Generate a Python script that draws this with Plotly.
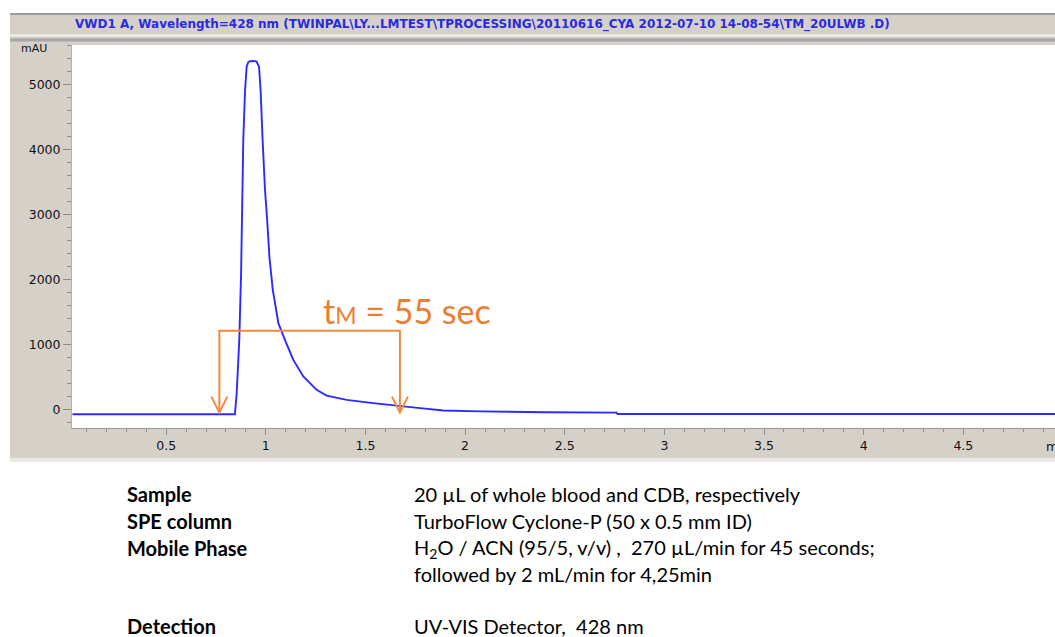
import plotly.graph_objects as go

# ---------------- data ----------------
time_min = [0.03, 0.845, 0.854, 0.867, 0.876, 0.881, 0.887, 0.896, 0.904, 0.912,
            0.921, 0.938, 0.954, 0.966, 0.974, 0.984, 0.996, 1.008, 1.018, 1.035,
            1.063, 1.096, 1.138, 1.188, 1.255, 1.305, 1.406, 1.539, 1.673, 1.774,
            1.891, 2.075, 2.40, 2.76, 2.765, 4.98]
absorbance_mAU = [-65, -65, 260, 1080, 2100, 3130, 4150, 4920, 5280, 5350,
                  5365, 5370, 5360, 5280, 4920, 4150, 3390, 2870, 2360, 1850,
                  1335, 1080, 770, 515, 310, 220, 155, 105, 55, 28,
                  -8, -22, -35, -40, -62, -62]

x_ticks = [0.5, 1, 1.5, 2, 2.5, 3, 3.5, 4, 4.5]
y_ticks = [0, 1000, 2000, 3000, 4000, 5000]

# dead-time annotation (minutes / mAU)
tM_start = 0.767
tM_end = 1.673
bracket_level = 1220
arrow_tip = -40

title_text = ("VWD1 A, Wavelength=428 nm (TWINPAL\\LY...LMTEST\\TPROCESSING\\20110616_CYA "
              "2012-07-10 14-08-54\\TM_20ULWB .D)")

labels_left = ["Sample", "SPE column", "Mobile Phase", "Detection"]
labels_right = ["20 µL of whole blood and CDB, respectively",
                "TurboFlow Cyclone-P (50 x 0.5 mm ID)",
                "H<sub>2</sub>O / ACN (95/5, v/v) ,  270 µL/min for 45 seconds;",
                "followed by 2 mL/min for 4,25min",
                "UV-VIS Detector,  428 nm"]

# ---------------- layout geometry ----------------
W, H = 1055, 637
L, R, T, B = 72, 0, 45, 209
PW = W - L - R
PH = H - T - B
x_range = [0.0276, 4.96]
y_range = [-277, 5615]


def px(xp):
    return (xp - L) / PW


def py(yp):
    return (H - B - yp) / PH


fig = go.Figure()
fig.add_trace(go.Scatter(x=time_min, y=absorbance_mAU, mode="lines",
                         line=dict(color="#2b2bff", width=1.9),
                         hoverinfo="skip", showlegend=False))

shapes = []
# grey instrument panel
shapes.append(dict(type="rect", xref="paper", yref="paper", x0=px(10), x1=px(1060),
                   y0=py(13), y1=py(458), fillcolor="#d5d1c9", line_width=0, layer="below"))
shapes.append(dict(type="rect", xref="paper", yref="paper", x0=px(10), x1=px(1060),
                   y0=py(458), y1=py(462), fillcolor="#ebe9e4", line_width=0, layer="below"))
shapes.append(dict(type="line", xref="paper", yref="paper", x0=px(10), x1=px(1060),
                   y0=py(14), y1=py(14), line=dict(color="#9c9c9c", width=2), layer="below"))
shapes.append(dict(type="line", xref="paper", yref="paper", x0=px(10), x1=px(1060),
                   y0=py(35.5), y1=py(35.5), line=dict(color="#f4f3f0", width=2), layer="below"))
shapes.append(dict(type="line", xref="paper", yref="paper", x0=px(10), x1=px(1060),
                   y0=py(40), y1=py(40), line=dict(color="#a6a6a6", width=3), layer="below"))
# white plotting area
shapes.append(dict(type="rect", xref="paper", yref="paper", x0=0, x1=1.01,
                   y0=0, y1=1, fillcolor="white", line_width=0, layer="below"))

# dead-time bracket and open arrow heads
orange = "#f28a3c"
shapes.append(dict(type="path", xref="x", yref="y",
                   path=(f"M {tM_start},{arrow_tip} L {tM_start},{bracket_level} "
                         f"L {tM_end},{bracket_level} L {tM_end},{arrow_tip}"),
                   line=dict(color=orange, width=2)))
hw = 8 / (PW / (x_range[1] - x_range[0]))
hh = 16 / (PH / (y_range[1] - y_range[0]))
for xt in (tM_start, tM_end):
    shapes.append(dict(type="path", xref="x", yref="y",
                       path=(f"M {xt - hw},{arrow_tip + hh} L {xt},{arrow_tip} "
                             f"L {xt + hw},{arrow_tip + hh}"),
                       line=dict(color=orange, width=2)))

annotations = []
annotations.append(dict(text=f"<b>{title_text}</b>", xref="paper", yref="paper",
                        x=px(482), y=py(25), showarrow=False,
                        xanchor="center", yanchor="middle",
                        font=dict(family="DejaVu Sans", size=12, color="#2a2ae0")))
annotations.append(dict(text="mAU", xref="paper", yref="paper", x=px(34), y=py(48),
                        showarrow=False, xanchor="center", yanchor="middle",
                        font=dict(family="DejaVu Sans", size=11, color="#111")))
annotations.append(dict(text="min", xref="paper", yref="paper", x=px(1044), y=py(446),
                        showarrow=False, xanchor="left", yanchor="middle",
                        font=dict(family="DejaVu Sans", size=12.5, color="#111")))
annotations.append(dict(text="t<span style='font-size:23px'>M</span> = 55 sec",
                        xref="paper", yref="paper", x=px(321), y=py(311),
                        showarrow=False, xanchor="left", yanchor="middle",
                        font=dict(family="Lato, Open Sans", size=34, color="#ed7d31")))

row_y = [494, 521, 548, 574, 626]
left_rows = [494, 521, 548, 626]
for lab, yy in zip(labels_left, left_rows):
    annotations.append(dict(text=f"<b>{lab}</b>", xref="paper", yref="paper",
                            x=px(125), y=py(yy), showarrow=False,
                            xanchor="left", yanchor="middle",
                            font=dict(family="Lato, Open Sans", size=20, color="black")))
for lab, yy in zip(labels_right, row_y):
    annotations.append(dict(text=lab, xref="paper", yref="paper",
                            x=px(412), y=py(yy), showarrow=False,
                            xanchor="left", yanchor="middle",
                            font=dict(family="Lato, Open Sans", size=20, color="black")))

fig.update_layout(
    width=W, height=H,
    margin=dict(l=L, r=R, t=T, b=B, pad=0),
    paper_bgcolor="white", plot_bgcolor="white",
    shapes=shapes, annotations=annotations,
    showlegend=False,
    xaxis=dict(range=x_range, tickvals=x_ticks, ticktext=[str(v) for v in x_ticks],
               ticks="outside", ticklen=6, tickcolor="#8a8a8a", tickwidth=1,
               showline=True, linecolor="#9a9a9a", linewidth=1, showgrid=False,
               zeroline=False, minor=dict(dtick=0.1, tick0=0, ticks="outside",
                                          ticklen=3, tickcolor="#8a8a8a", showgrid=False),
               tickfont=dict(family="DejaVu Sans", size=12.5, color="#111")),
    yaxis=dict(range=y_range, tickvals=y_ticks, ticktext=[str(v) for v in y_ticks],
               ticks="outside", ticklen=8, tickcolor="#8a8a8a", tickwidth=1,
               showline=True, linecolor="#b0b0b0", linewidth=1, showgrid=False,
               zeroline=False, minor=dict(dtick=200, tick0=0, ticks="outside",
                                          ticklen=4, tickcolor="#8a8a8a", showgrid=False),
               tickfont=dict(family="DejaVu Sans", size=12.5, color="#111")),
)

fig.write_html("out.html", config={"displayModeBar": False},
               post_script="document.body.style.margin='0px';")
